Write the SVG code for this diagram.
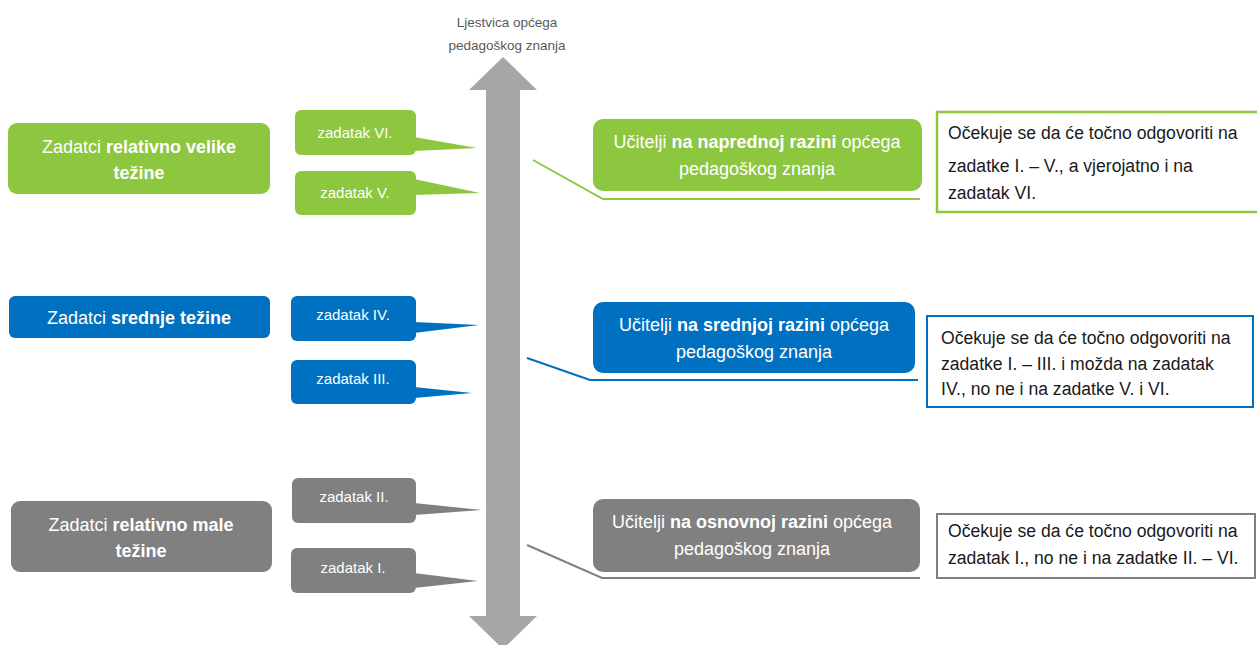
<svg xmlns="http://www.w3.org/2000/svg" width="1257" height="645" viewBox="0 0 1257 645">
<style>
text{font-family:"Liberation Sans",Arial,sans-serif}
.w{fill:#fff}
.b{font-weight:bold}
.big{font-size:18px}
.sm{font-size:15px}
.note{font-size:17.6px;fill:#1a1a1a}
.g{fill:#8dc63f}
.bl{fill:#0070c0}
.gr{fill:#808080}
.ln{fill:none;stroke-width:2}
</style>
<rect width="1257" height="645" fill="#fff"/>
<g id="scale">
<polygon points="503,57 537,90 520,90 520,616 537,616 503,649 469,616 486,616 486,90 469,90" fill="#a6a6a6"/>
<text x="507" y="27" text-anchor="middle" font-size="13.5" fill="#595959">Ljestvica općega</text>
<text x="507" y="50" text-anchor="middle" font-size="13.5" fill="#595959">pedagoškog  znanja</text>
</g>
<g id="left-high">
<rect class="g" x="8" y="123" width="262" height="71" rx="9"/>
<text class="w big" x="139" y="153" text-anchor="middle">Zadatci <tspan class="b">relativno velike</tspan></text>
<text class="w big b" x="139" y="179" text-anchor="middle">težine</text>
</g>
<g id="left-mid">
<rect class="bl" x="9" y="296" width="261" height="42" rx="6"/>
<text class="w big" x="139" y="324" text-anchor="middle">Zadatci <tspan class="b">srednje težine</tspan></text>
</g>
<g id="left-low">
<rect class="gr" x="11" y="501" width="261" height="71" rx="9"/>
<text class="w big" x="141" y="531" text-anchor="middle">Zadatci <tspan class="b">relativno male</tspan></text>
<text class="w big b" x="141" y="557" text-anchor="middle">težine</text>
</g>
<g id="task6">
<rect class="g" x="295" y="110" width="121" height="45" rx="6"/>
<polygon class="g" points="414,137 477,148 414,151"/>
<text class="w sm" x="355" y="138" text-anchor="middle">zadatak VI.</text>
</g>
<g id="task5">
<rect class="g" x="295" y="171" width="121" height="44" rx="6"/>
<polygon class="g" points="414,179 480,193 414,195"/>
<text class="w sm" x="355" y="198" text-anchor="middle">zadatak V.</text>
</g>
<g id="task4">
<rect class="bl" x="291" y="296" width="125" height="45" rx="6"/>
<polygon class="bl" points="414,322 479,325 414,333"/>
<text class="w sm" x="353" y="320" text-anchor="middle">zadatak IV.</text>
</g>
<g id="task3">
<rect class="bl" x="291" y="360" width="125" height="44" rx="6"/>
<polygon class="bl" points="414,387 472,393 414,398"/>
<text class="w sm" x="353" y="384" text-anchor="middle">zadatak III.</text>
</g>
<g id="task2">
<rect class="gr" x="292" y="478" width="124" height="45" rx="6"/>
<polygon class="gr" points="414,503 482,510 414,515"/>
<text class="w sm" x="354" y="502" text-anchor="middle">zadatak II.</text>
</g>
<g id="task1">
<rect class="gr" x="291" y="548" width="125" height="45" rx="6"/>
<polygon class="gr" points="414,573 478,581 414,588"/>
<text class="w sm" x="353" y="573" text-anchor="middle">zadatak I.</text>
</g>
<g id="connectors">
<polyline class="ln" stroke="#8dc63f" points="533,160 603,199 920,199"/>
<polyline class="ln" stroke="#0070c0" points="527,358 590,380 918,380"/>
<polyline class="ln" stroke="#808080" points="527,545 602,578 920,578"/>
</g>
<g id="teach-high">
<rect class="g" x="593" y="119" width="329" height="72" rx="10"/>
<text class="w big" x="757" y="148" text-anchor="middle">Učitelji <tspan class="b">na naprednoj razini</tspan> općega</text>
<text class="w big" x="757" y="175" text-anchor="middle">pedagoškog znanja</text>
</g>
<g id="teach-mid">
<rect class="bl" x="593" y="302" width="322" height="71" rx="10"/>
<text class="w big" x="754" y="331" text-anchor="middle">Učitelji <tspan class="b">na srednjoj razini</tspan> općega</text>
<text class="w big" x="754" y="358" text-anchor="middle">pedagoškog znanja</text>
</g>
<g id="teach-low">
<rect class="gr" x="593" y="499" width="327" height="73" rx="10"/>
<text class="w big" x="752" y="528" text-anchor="middle">Učitelji <tspan class="b">na osnovnoj razini</tspan> općega</text>
<text class="w big" x="752" y="555" text-anchor="middle">pedagoškog znanja</text>
</g>
<g id="note-high">
<rect x="937" y="112" width="325" height="100" fill="#fff" stroke="#8dc63f" stroke-width="2.5"/>
<text class="note" x="948" y="139">Očekuje se da će točno odgovoriti na</text>
<text class="note" x="948" y="172">zadatke I. – V., a vjerojatno i na</text>
<text class="note" x="948" y="199">zadatak VI.</text>
</g>
<g id="note-mid">
<rect x="927" y="316" width="326" height="91" fill="#fff" stroke="#0070c0" stroke-width="2"/>
<text class="note" x="941" y="344">Očekuje se da će točno odgovoriti na</text>
<text class="note" x="941" y="370">zadatke I. – III. i možda na zadatak</text>
<text class="note" x="941" y="395">IV., no ne i na zadatke V. i VI.</text>
</g>
<g id="note-low">
<rect x="937" y="514" width="318" height="64" fill="#fff" stroke="#808080" stroke-width="2"/>
<text class="note" x="948" y="537">Očekuje se da će točno odgovoriti na</text>
<text class="note" x="948" y="564">zadatak I., no ne i na zadatke II. – VI.</text>
</g>
</svg>
